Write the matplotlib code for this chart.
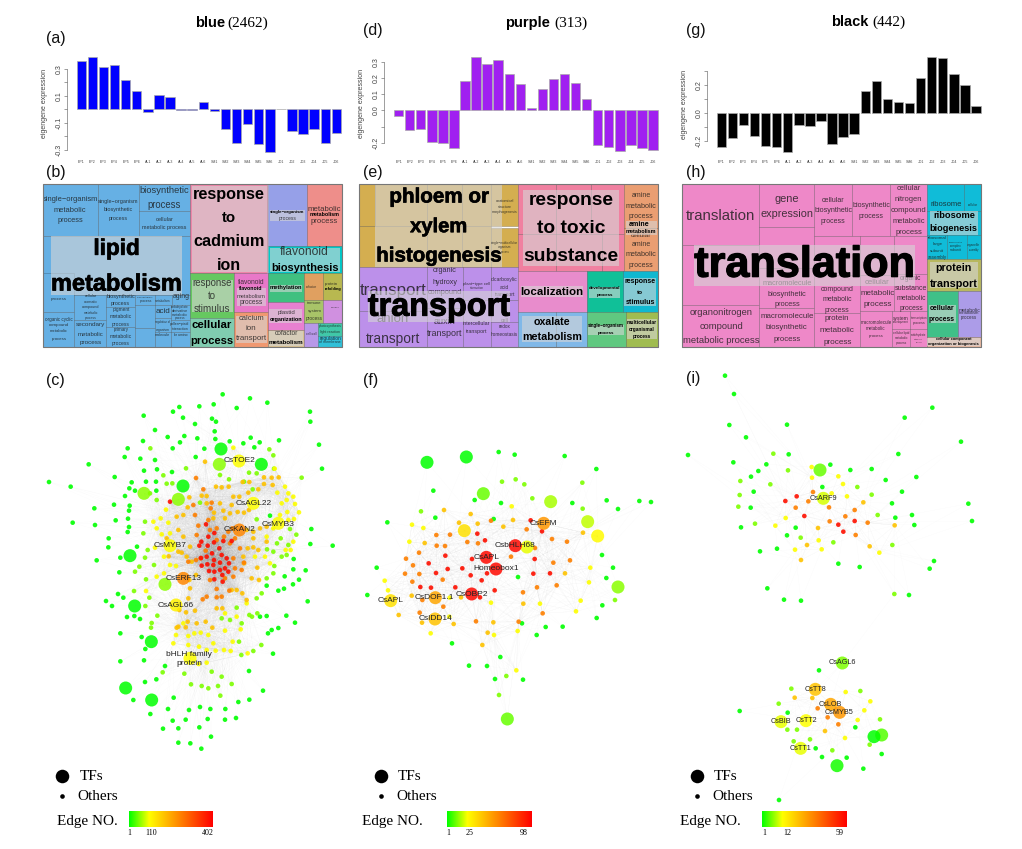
import numpy as np
import matplotlib
matplotlib.use('Agg')
import matplotlib.pyplot as plt
import matplotlib.patheffects as pe
from matplotlib.collections import LineCollection
from matplotlib.colors import LinearSegmentedColormap
from matplotlib.patches import Rectangle

W, H = 1022, 849
plt.rcParams['font.family'] = ['Liberation Sans', 'DejaVu Sans']

# ---- eigengene bars
samples = ['EP1','EP2','EP3','EP4','EP5','EP6','AL1','AL2','AL3','AL4','AL5','AL6',
           'SM1','SM2','SM3','SM4','SM5','SM6','JD1','JD2','JD3','JD4','JD5','JD6']
blue_vals = [.36,.385,.313,.326,.215,.133,-.017,.108,.094,-.004,-.005,.054,
             -.01,-.146,-.252,-.106,-.26,-.313,.005,-.158,-.185,-.143,-.25,-.175]
purple_vals = [-.035,-.124,-.118,-.196,-.2,-.233,.181,.33,.285,.311,.225,.163,
               .016,.13,.194,.225,.167,.068,-.216,-.227,-.254,-.214,-.231,-.245]
black_vals = [-.24,-.179,-.082,-.165,-.235,-.24,-.273,-.082,-.094,-.056,-.219,-.172,
              -.148,.158,.228,.096,.08,.073,.247,.398,.386,.273,.195,.047]

# ---- treemap tiles: x0, y0, x1, y1, colour (read in 3x crop pixels)
b_tiles = [(8,28,173,183,'#66B0E4'),(173,28,297,183,'#66B0E4'),(297,28,449,107,'#66B0E4'),
    (297,107,449,183,'#66B0E4'),(8,183,449,360,'#66B0E4'),(8,295,103,410,'#66B0E4'),(8,410,103,515,'#66B0E4'),
    (103,360,198,435,'#66B0E4'),(103,435,198,515,'#66B0E4'),(198,360,285,395,'#66B0E4'),(198,395,285,455,'#66B0E4'),
    (198,455,285,515,'#66B0E4'),(285,360,345,390,'#66B0E4'),(345,360,395,390,'#66B0E4'),(395,360,449,390,'#66B0E4'),
    (285,390,345,460,'#66B0E4'),(285,460,345,515,'#66B0E4'),(345,390,392,430,'#66B0E4'),(392,390,449,435,'#66B0E4'),
    (345,430,392,470,'#66B0E4'),(392,435,449,470,'#66B0E4'),(345,470,392,515,'#66B0E4'),(392,470,449,515,'#66B0E4'),
    (449,28,682,295,'#EE86A8'),(684,28,802,212,'#96A0E8'),(802,28,905,212,'#EE8E8A'),(684,212,905,295,'#00C8C8'),
    (449,295,583,428,'#66C860'),(449,428,583,515,'#80CCB0'),(583,295,683,410,'#E878C8'),(583,410,683,515,'#F09870'),
    (683,295,792,380,'#40C080'),(792,295,849,375,'#E0A060'),(849,295,905,375,'#B8B850'),(683,380,792,465,'#E880D0'),
    (683,465,792,515,'#D8C090'),(792,375,849,443,'#A8C468'),(849,375,905,443,'#D090E0'),(792,443,833,515,'#B898E8'),
    (833,443,905,482,'#40C8A8'),(833,482,905,515,'#30C0D8')]
b_boxes = [(33,183,425,360),(455,32,680,292),(689,105,796,137),(690,218,900,292),(455,315,578,412),
           (590,340,677,392),(588,422,680,505),(689,330,787,350),(688,402,787,445),(686,468,790,512)]
# last field: 0 plain, 1 bold, 2 plain and lying under a grey label box
b_text = [(8,172,75,'single−organism',0),(42,138,107,'metabolic',0),(52,130,138,'process',0),
    (174,296,81,'single−organism',0),(190,278,105,'biosynthetic',0),(205,262,131,'process',0),
    (298,447,46,'biosynthetic',0),(322,422,90,'process',0),(346,400,133,'cellular',0),(306,440,157,'metabolic process',0),
    (160,300,220,'lipid',1),(33,425,327,'metabolism',1),(457,675,58,'response',1),(545,587,128,'to',1),
    (459,673,200,'cadmium',1),(530,602,271,'ion',1),(689,795,112,'single−organism',1),(716,768,130,'process',0),
    (803,903,104,'metabolic',0),(808,898,120,'metabolism',1),(812,893,139,'process',0),
    (720,866,231,'flavonoid',0),(693,895,280,'biosynthesis',1),(456,575,324,'response',0),(503,527,363,'to',0),
    (461,570,401,'stimulus',0),(456,576,449,'cellular',1),(451,580,497,'process',1),
    (593,674,323,'flavonoid',0),(598,668,340,'flavonoid',1),(590,677,364,'metabolism',0),(598,668,383,'process',0),
    (595,672,431,'calcium',0),(616,648,461,'ion',0),(587,680,492,'transport',0),(690,787,339,'methylation',1),
    (855,895,327,'protein',0),(853,903,342,'refolding',1),(712,765,412,'plastid',0),(688,787,435,'organization',1),
    (703,775,476,'cofactor',0),(686,790,504,'metabolism',1),(800,845,385,'immune',0),(803,845,408,'system',0),
    (798,848,430,'process',0),(397,448,365,'aging',0),(106,195,449,'secondary',0),(112,190,477,'metabolic',0),
    (118,185,503,'process',0),(15,97,432,'organic cyclic',0),(26,88,449,'compound',0),(30,85,468,'metabolic',0),
    (34,80,491,'process',0),(133,170,364,'cellular',0),(130,172,381,'aromatic',0),(125,178,397,'compound',0),
    (130,174,413,'metabolic',0),(134,170,428,'process',0),(33,80,372,'process',0),(200,285,365,'biosynthetic',0),
    (213,270,387,'process',0),(217,268,403,'pigment',0),(210,276,425,'metabolic',0),(216,268,448,'process',0),
    (220,266,463,'primary',0),(210,276,484,'metabolic',0),(216,268,506,'process',0),(345,392,378,'metabolism',0),
    (292,338,367,'acid metabolic',0),(298,335,379,'process',0),(346,390,409,'acid',0),(392,446,396,'carbohydrate',0),
    (396,444,408,'derivative',0),(396,444,420,'metabolic',0),(404,436,430,'process',0),(390,447,446,'pollen−pistil',0),
    (395,445,461,'interaction',0),(397,442,479,'for amino',0),(346,391,442,'regulation of',0),(348,390,465,'organism',0),
    (345,392,479,'molecule',0),(796,830,336,'cofactor',0),(872,898,397,'process',0),
    (800,830,476,'cell wall',0),(836,904,452,'photosynthesis',0),(840,900,470,'light reaction',0),(838,902,490,'regulation',0),
    (838,902,502,'of membrane',0)]
e_tiles = [(13,28,60,152,'#D4AE50'),(60,28,215,152,'#D4AE50'),(215,28,320,152,'#D4AE50'),(320,28,408,152,'#D4AE50'),
    (408,28,488,152,'#D4AE50'),(13,152,215,275,'#D4AE50'),(215,152,320,275,'#D4AE50'),(320,152,408,275,'#D4AE50'),
    (408,160,488,275,'#D4AE50'),(488,28,603,178,'#F080A0'),(603,28,708,178,'#F080A0'),(708,28,808,178,'#F080A0'),
    (488,178,603,288,'#F080A0'),(603,178,742,288,'#F080A0'),(742,178,808,288,'#F080A0'),(808,28,910,160,'#EA9E72'),
    (808,160,910,288,'#EA9E72'),(13,275,215,408,'#BC90EA'),(13,408,215,515,'#BC90EA'),(215,275,323,400,'#BC90EA'),
    (215,400,323,515,'#BC90EA'),(323,275,408,375,'#BC90EA'),(408,275,488,375,'#BC90EA'),(323,375,408,515,'#BC90EA'),
    (408,375,488,440,'#BC90EA'),(408,440,488,515,'#BC90EA'),(488,288,695,412,'#E88CCC'),(695,288,803,412,'#10C098'),
    (803,288,910,412,'#10B8D0'),(488,412,602,515,'#80B8E8'),(602,412,695,515,'#80B8E8'),(695,412,812,515,'#60C880'),
    (812,412,910,515,'#A0BC50')]
e_boxes = [(60,28,442,275),(504,45,792,273),(813,138,905,180),(38,348,465,440),(498,333,685,367),(702,335,795,368),
           (808,310,903,392),(500,422,682,502),(700,450,806,480),(817,432,905,492)]
e_text = [(103,402,66,'phloem or',1),(165,337,155,'xylem',1),(63,440,243,'histogenesis',1),(15,215,345,'transport',2),
    (38,465,398,'transport',1),(65,163,433,'anion',2),(33,197,492,'transport',0),(232,305,288,'organic',0),
    (231,307,321,'hydroxy',0),(217,320,353,'compound',2),(237,302,438,'auxin',2),(216,323,476,'transport',0),
    (520,775,78,'response',1),(546,750,161,'to toxic',1),(505,790,245,'substance',1),(830,888,63,'amine',0),
    (812,905,94,'metabolic',0),(822,895,125,'process',0),(820,882,148,'amine',1),(813,905,171,'metabolism',1),
    (828,890,182,'cellular',2),(830,888,208,'amine',0),(812,905,240,'metabolic',0),(822,895,271,'process',0),
    (498,684,351,'localization',1),(702,796,340,'developmental',1),(724,774,361,'process',1),(809,903,320,'response',1),
    (846,864,352,'to',1),(812,900,382,'stimulus',1),(536,646,440,'oxalate',1),(501,681,487,'metabolism',1),
    (699,807,453,'single−organism',1),(728,778,473,'process',1),(816,905,441,'multicellular',1),
    (822,898,463,'organismal',1),(833,888,485,'process',1),(409,488,315,'dicarboxylic',0),(435,462,337,'acid',0),
    (419,480,358,'transport',2),(324,406,445,'intercellular',0),(333,397,468,'transport',0),(430,465,456,'redox',0),
    (408,488,477,'homeostasis',0),(436,460,435,'cell',2),(325,407,326,'plant−type cell',0),(345,385,340,'interaction',0),
    (422,478,77,'anatomical',0),(430,472,95,'structure',0),(412,488,111,'morphogenesis',0),
    (408,488,203,'single−multicellular',0),(428,468,217,'organism',0),(438,465,231,'process',0)]
h_tiles = [(20,28,253,210,'#EE88C8'),(253,28,417,157,'#EE88C8'),(417,28,532,183,'#EE88C8'),(532,28,646,183,'#EE88C8'),
    (646,28,757,183,'#EE88C8'),(253,157,417,280,'#EE88C8'),(20,210,253,391,'#EE88C8'),(20,391,253,515,'#EE88C8'),
    (253,280,417,400,'#EE88C8'),(253,400,417,515,'#EE88C8'),(417,183,556,300,'#EE88C8'),(556,183,658,300,'#EE88C8'),
    (658,183,757,297,'#EE88C8'),(417,300,556,415,'#EE88C8'),(556,300,658,408,'#EE88C8'),(658,297,757,408,'#EE88C8'),
    (417,415,556,515,'#EE88C8'),(556,408,650,515,'#EE88C8'),(650,408,706,463,'#EE88C8'),(706,408,757,463,'#EE88C8'),
    (650,463,706,515,'#EE88C8'),(706,463,757,515,'#EE88C8'),(757,28,868,108,'#10BCD8'),(868,28,917,108,'#10BCD8'),
    (757,108,917,180,'#10BCD8'),(757,180,815,253,'#10BCD8'),(815,180,875,253,'#10BCD8'),(875,180,917,253,'#10BCD8'),
    (757,253,917,348,'#B8B860'),(757,348,848,485,'#40C088'),(848,348,917,485,'#AC9CE8'),(757,485,917,515,'#E8B8A0')]
h_boxes = [(57,210,720,333),(765,108,910,180),(765,262,908,340),(762,390,842,445),(757,488,915,513)]
h_text = [(33,241,122,'translation',0),(298,372,71,'gene',0),(257,415,118,'expression',0),(440,508,77,'cellular',0),
    (417,532,108,'biosynthetic',0),(437,511,139,'process',0),(532,646,92,'biosynthetic',0),(552,627,124,'process',0),
    (665,737,42,'cellular',0),(660,742,75,'nitrogen',0),(648,755,108,'compound',0),(653,750,141,'metabolic',0),
    (662,742,174,'process',0),(57,718,272,'translation',1),(260,411,325,'macromolecule',2),(277,395,357,'biosynthetic',0),
    (297,375,389,'process',0),(570,644,321,'cellular',2),(437,535,344,'compound',0),(443,531,374,'metabolic',0),
    (449,522,405,'process',0),(556,659,355,'metabolic',0),(565,650,390,'process',0),(675,740,311,'organic',2),
    (660,755,340,'substance',0),(663,752,370,'metabolic',0),(672,743,400,'process',0),(42,233,413,'organonitrogen',0),
    (72,204,455,'compound',0),(23,253,496,'metabolic process',0),(255,417,424,'macromolecule',0),
    (273,398,458,'biosynthetic',0),(295,376,493,'process',0),(449,523,430,'protein',0),(434,539,465,'metabolic',0),
    (444,530,501,'process',0),(557,650,441,'macromolecule',0),(574,632,462,'metabolic',0),(580,625,482,'process',0),
    (765,860,89,'ribosome',0),(775,900,122,'ribosome',1),(765,908,161,'biogenesis',1),(758,816,188,'ribosomal',0),
    (772,802,208,'large',0),(765,808,227,'subunit',0),(758,815,246,'assembly',0),(782,890,279,'protein',1),
    (765,908,326,'transport',1),(764,838,402,'cellular',1),(762,840,433,'process',1),(850,915,405,'metabolic',0),
    (852,914,415,'metabolism',0),(857,905,427,'process',0),(782,890,491,'cellular component',1),
    (760,912,508,'organization or biogenesis',1),(655,702,430,'system',0),(655,702,442,'development',0),
    (708,755,430,'transcription',0),(712,750,445,'process',0),(655,702,475,'cellular lipid',0),(660,700,489,'metabolic',0),
    (662,696,503,'process',0),(708,755,481,'carbohydrate',0),(718,745,492,'catabolic',0),(722,742,503,'process',0),
    (878,908,90,'cellular',0),(820,865,202,'ribonucleoprotein',0),(825,860,214,'complex',0),(825,860,226,'subunit',0),
    (876,915,210,'organelle',0),(880,912,224,'assembly',0)]

# ---- network nodes, (x, y) in 3x crop pixels, split by edge-number tier
c_green = [(548,103),(630,115),(682,128),(478,139),(521,133),(418,141),(590,144),(399,155),(311,167),(429,173),(516,176),
    (810,155),(811,185),(465,192),(528,185),(345,210),(524,214),(433,228),(383,231),(472,235),(309,243),(526,237),(420,247),
    (398,265),(263,265),(493,266),(569,244),(632,233),(610,250),(659,247),(717,241),(643,262),(837,254),(254,291),(301,296),
    (345,300),(467,291),(146,313),(312,332),(351,328),(846,326),(396,336),(224,351),(27,366),(92,380),(275,367),(268,385),
    (318,365),(348,365),(255,408),(285,392),(349,392),(222,434),(163,445),(269,437),(267,452),(264,476),(227,481),(98,488),
    (165,495),(267,501),(263,516),(206,535),(205,562),(170,601),(291,560),(241,593),(238,637),(814,507),(811,552),(878,557),
    (761,597),(760,628),(797,631),(777,659),(734,649),(759,673),(680,677),(732,686),(715,692),(803,724),(198,723),(216,738),
    (234,702),(250,713),(261,771),(283,768),(300,777),(739,767),(765,788),(715,804),(695,810),(684,820),(680,768),(660,770),
    (241,820),(305,831),(316,867),(241,904),(312,901),(699,881),(627,933),(375,918),(349,958),(315,966),(280,1020),(401,1013),
    (669,992),(628,1019),(595,1026),(384,1047),(331,1062),(447,1050),(480,1041),(511,1047),(556,1047),(398,1082),(437,1079),
    (503,1077),(555,1079),(588,1074),(369,1106),(415,1105),(478,1102),(513,1130),(415,1148),(451,1150),(484,1166),(690,467)]
c_lime = [(331,265),(370,346),(785,353),(397,370),(380,371),(438,325),(540,345),(567,358),(627,338),(650,340),(612,365),
    (638,388),(700,286),(688,268),(702,326),(350,420),(315,485),(310,520),(323,570),(315,593),(342,615),(298,620),(285,635),
    (318,658),(282,693),(328,713),(316,738),(352,767),(335,789),(333,803),(769,524),(750,507),(745,555),(722,535),(711,550),
    (700,575),(725,590),(681,568),(703,618),(740,585),(700,640),(680,655),(665,700),(650,715),(628,765),(652,760),(636,770),
    (590,743),(605,790),(597,845),(545,775),(570,780),(664,855),(604,885),(640,873),(368,937),(433,941),(453,973),(485,978),
    (534,978),(575,972),(505,985),(541,1007),(545,950),(515,935),(480,428),(650,478),(330,400)]
c_yellow = [(580,263),(704,326),(740,420),(760,410),(745,400),(765,432),(735,380),(712,398),(725,430),(742,456),(762,477),
    (777,457),(745,480),(720,465),(760,545),(737,570),(752,570),(700,505),(680,530),(645,590),(675,590),(690,610),(318,693),
    (362,475),(378,449),(340,485),(385,488),(350,505),(390,520),(365,523),(345,563),(372,590),(390,615),(408,618),(350,650),
    (372,640),(408,825),(430,790),(445,828),(463,820),(482,818),(505,825),(520,850),(477,860),(500,870),(527,872),(552,870),
    (572,873),(555,812),(602,808),(578,845),(623,880),(500,908),(476,912),(445,855),(400,850),(555,760),(590,770),(620,730)]
c_amber = [(545,382),(566,380),(528,380),(608,366),(628,366),(672,352),(695,353),(716,352),(672,372),(698,375),(655,388),
    (500,408),(485,407),(580,410),(598,410),(625,398),(448,412),(430,465),(410,470),(443,442),(500,430),(540,430),(575,435),
    (593,456),(612,458),(627,450),(550,452),(570,460),(520,475),(522,458),(555,475),(660,505),(640,515),(620,510),(680,500),
    (640,535),(623,565),(640,562),(680,545),(655,570),(610,590),(652,623),(635,655),(657,660),(612,610),(450,560),(430,530),
    (415,510),(415,575),(425,578),(380,535),(386,589),(455,605),(440,590),(468,645),(448,660),(450,685),(445,715),(418,750),
    (438,757),(465,752),(415,800),(443,785),(470,790),(497,785),(517,803),(437,802),(410,803),(575,690),(590,690),(607,700),
    (620,720),(547,745),(530,745),(495,305)]
c_orange = [(468,354),(490,388),(460,435),(465,465),(515,428),(512,445),(505,480),(475,497),(470,525),(510,510),(530,505),
    (577,505),(565,515),(585,535),(600,565),(570,550),(552,530),(530,540),(612,608),(580,595),(580,650),(555,655),(605,630),
    (585,625),(510,660),(530,687),(568,692),(500,710),(488,718),(530,712),(545,710),(468,600),(482,595),(445,605),(497,572)]
c_red = [(390,425),(498,493),(523,519),(505,530),(484,545),(478,557),(503,557),(522,547),(550,543),(575,543),(538,565),
    (516,580),(545,585),(500,590),(483,594),(522,600),(560,595),(502,613),(485,617),(540,608),(567,610),(520,615),(555,625),
    (507,633),(523,635),(565,635),(540,630),(547,645),(523,658),(548,665)]
c_hubs = [(543,267,0),(664,313,0),(429,378,0),(270,587,0),(284,738,0),(334,845,0),(257,984,0),(335,1020,0),(538,313,.13),
    (312,400,.13),(415,418,.13),(375,673,.13),(597,303,.24),(640,430,.24),(715,490,.24),(390,557,.24),(408,735,.28),
    (450,895,.24),(598,510,.6),(430,655,.6)]
c_labels = [(600,303,'CsTOE2'),(640,430,'CsAGL22'),(715,492,'CsMYB3'),(600,509,'CsKAN2'),(390,557,'CsMYB7'),
    (430,657,'CsERF13'),(408,736,'CsAGL66'),(447,897,'bHLH family\nprotein')]

f_green = [(431,96),(479,104),(629,108),(724,147),(235,212),(359,240),(438,249),(652,249),(755,241),(853,243),(888,246),
    (789,267),(97,307),(241,293),(416,297),(741,405),(65,443),(774,443),(754,474),(489,471),(37,525),(742,556),(725,594),
    (501,610),(545,645),(572,621),(623,620),(291,670),(436,711),(342,737),(396,738),(420,777),(504,779)]
f_lime = [(441,185),(482,178),(508,193),(532,235),(682,188),(683,266),(198,274),(780,540),(432,825),(454,768)]
f_yellow = [(470,259),(171,314),(205,324),(163,365),(89,482),(99,511),(706,443),(702,487),(677,542),(663,574),(555,551),
    (284,533),(227,640),(417,645),(488,633),(484,751),(283,590),(408,548)]
f_amber = [(267,270),(347,282),(312,308),(368,311),(445,320),(474,300),(209,369),(684,338),(630,460),(131,585),(201,608),
    (382,675),(398,638),(415,607),(318,532),(170,527),(505,551),(296,612)]
f_orange = [(244,345),(285,344),(245,377),(270,378),(192,398),(153,416),(174,436),(150,461),(193,462),(172,485),(263,479),
    (369,370),(337,366),(408,302),(515,328),(591,357),(636,365),(468,410),(595,428),(645,421),(605,496),(546,502),(504,517),
    (563,580),(491,605),(363,604),(194,578),(265,560),(202,540),(540,384)]
f_red = [(367,341),(390,361),(271,407),(221,430),(278,447),(243,459),(322,445),(351,417),(347,466),(380,481),(396,460),
    (196,501),(228,503),(301,502),(419,511),(375,532),(539,417),(535,461),(585,460),(527,301),(561,334)]
f_hubs = [(216,127,0),(334,111,0),(385,221,.1),(457,897,.1),(789,501,.13),(587,245,.16),(698,305,.18),(516,381,.22),
    (728,348,.25),(328,332,.33),(107,542,.33),(240,597,.42),(241,533,.5),(566,310,.55),(481,377,.97),(394,412,.97),
    (423,447,.97),(350,522,.97)]
f_labels = [(566,311,'CsEFM'),(480,377,'CsbHLH68'),(394,412,'CsAPL'),(423,447,'Homeobox1'),(350,522,'CsOBP2'),
    (239,532,'CsDOF1.1'),(107,541,'CsAPL'),(241,597,'CsIDD14')]

i_green = [(135,17),(162,72),(148,165),(198,202),(321,164),(24,255),(160,277),(326,253),(259,283),(235,303),(213,320),
    (221,365),(212,413),(183,472),(347,473),(321,496),(291,536),(240,544),(451,284),(511,300),(575,297),(427,351),(617,330),
    (674,143),(757,113),(843,215),(655,252),(709,321),(666,365),(636,400),(646,443),(696,435),(865,401),(876,453),(703,465),
    (762,573),(749,596),(687,675),(475,581),(539,591),(262,655),(312,689),(363,692),(417,901),(179,1023),(605,1152),(550,1196),
    (500,1163),(426,1161),(407,1135),(297,1290),(323,1028),(526,1072)]
i_lime = [(280,251),(324,301),(271,343),(181,333),(179,375),(175,410),(225,461),(362,503),(460,517),(532,351),(575,374),
    (593,435),(637,525),(643,672),(334,956),(296,1001),(322,1079),(351,1079),(390,1108),(341,1114),(541,963),(600,1048),
    (569,1124),(457,1141)]
i_yellow = [(395,291),(396,323),(317,444),(286,467),(345,539),(416,511),(425,538),(598,548),(489,342),(501,379),(475,319),
    (533,1050),(553,1021),(571,994),(497,966),(495,1104),(455,370)]
i_amber = [(363,570),(381,525),(414,474),(550,397),(569,529),(644,466),(344,983),(397,984),(435,1083)]
i_orange = [(399,366),(385,394),(347,413),(447,412),(524,420),(496,439),(449,454),(563,458),(527,495),(413,1015),(443,1042),(475,1063)]
i_red = [(316,393),(350,379),(373,438),(475,464),(524,453),(490,485)]
i_hubs = [(420,300,.1),(487,879,.12),(605,1095,.08),(582,1100,0),(471,1187,.02),(430,385,.2),(303,1055,.22),(378,1052,.24),
    (362,1135,.22),(406,958,.42),(452,1003,.5),(479,1027,.55)]
i_labels = [(430,384,'CsARF9'),(488,878,'CsAGL6'),(406,958,'CsTT8'),(452,1002,'CsLOB'),(478,1027,'CsMYB5'),
    (303,1055,'CsBIB'),(378,1052,'CsTT2'),(362,1135,'CsTT1')]
i_bridge = [(643,672,487,879)]

tier_values = [0.0, 0.12, 0.24, 0.42, 0.62, 0.95]
edge_cmap = LinearSegmentedColormap.from_list('edge', [(0,'#00FF00'),(.24,'#FFFF00'),(1,'#FF0000')])

fig = plt.figure(figsize=(W/100, H/100), dpi=100)
renderer = fig.canvas.get_renderer()


def crop_axes(ox, oy, w, h):
    # axes whose data units are the 3x crop pixels of that region
    ax = fig.add_axes([ox/W, 1-(oy+h)/H, w/W, h/H])
    ax.set_xlim(0, w*3)
    ax.set_ylim(h*3, 0)
    ax.axis('off')
    ax.patch.set_alpha(0)
    return ax


def fit_label(ax, x0, x1, y, s, flag):
    bold = flag == 1
    t = ax.text((x0+x1)/2, y, s, ha='center', va='center', color='black' if bold else '#1a1a1a',
                alpha=1 if bold else .8, fontweight='bold' if bold else 'normal', fontsize=10,
                zorder=2 if flag == 2 else 4)
    size = 10*(x1-x0)/3/t.get_window_extent(renderer).width
    t.set_fontsize(size)
    if bold and size > 14:
        # the biggest treemap titles are heavier than the plain bold face
        t.set_path_effects([pe.withStroke(linewidth=size*.03, foreground='black')])


def treemap(ax, tiles, boxes, labels):
    for x0, y0, x1, y1, col in tiles:
        ax.add_patch(Rectangle((x0, y0), x1-x0, y1-y0, fc=col, ec=(0, 0, 0, .22), lw=.6, zorder=1))
    for x0, y0, x1, y1 in boxes:
        ax.add_patch(Rectangle((x0, y0), x1-x0, y1-y0, fc=(.84, .84, .84, .6), ec='none', zorder=3))
    xs = [t[0] for t in tiles]+[t[2] for t in tiles]
    ys = [t[1] for t in tiles]+[t[3] for t in tiles]
    ax.add_patch(Rectangle((min(xs), min(ys)), max(xs)-min(xs), max(ys)-min(ys), fc='none', ec='#777777', lw=.8, zorder=5))
    for x0, x1, y, s, flag in labels:
        fit_label(ax, x0, x1, y, s, flag)


def eigengene(vals, col, ox, first_x, last_x, zero_y, per_tenth, axis_x, ticks, labelled, label_x):
    # axes placed so the value scale lands where the crop shows it
    top, bot = 150, 470
    right = last_x+30
    ax = fig.add_axes([(ox+axis_x/3)/W, 1-bot/3/H, (right-axis_x)/3/W, (bot-top)/3/H])
    step = (last_x-first_x)/23
    ax.set_xlim((axis_x-first_x)/step, (right-first_x)/step)
    ax.set_ylim((zero_y-bot)/per_tenth/10, (zero_y-top)/per_tenth/10)
    ax.patch.set_alpha(0)
    ax.bar(range(24), vals, width=.85, color=col, edgecolor='#aaaaaa', linewidth=.5)
    for k in ['top', 'right', 'bottom']:
        ax.spines[k].set_visible(False)
    ax.spines['left'].set_bounds(min(ticks), max(ticks))
    ax.spines['left'].set_linewidth(.4)
    ax.spines['left'].set_color('#555555')
    ax.set_yticks(ticks)
    ax.set_yticklabels(['%.1f' % v if v in labelled else '' for v in ticks], rotation=90, va='center', fontsize=5, color='#444444')
    ax.tick_params(axis='y', length=2, width=.4, pad=1, color='#555555')
    ax.set_xticks([])
    lab = crop_axes(ox, 0, 320, 175)
    lab.text(label_x, (zero_y+(top+bot)/2)/2-10, 'eigengene expression', rotation=90, ha='center', va='center', fontsize=5, color='#444444')
    for i, s in enumerate(samples):
        lab.text(first_x+step*i, 485, s, ha='center', va='center', fontsize=2.6, color='#444444')


def network(ax, tiers, hubs, labels, k0, kn, alpha, label_size, bridge=()):
    xy, val = [], []
    for pts, v in zip(tiers, tier_values):
        xy += pts
        val += [v]*len(pts)
    xy += [h[:2] for h in hubs]
    val += [h[2] for h in hubs]
    xy = np.array(xy, float)
    val = np.array(val)
    # links: every node to its nearest better-connected nodes, more for the hot ones
    core = xy[val >= .24]
    segs = []
    for p, v in zip(xy, val):
        d = np.hypot(*(core-p).T)
        for j in np.argsort(d)[1:int(k0+kn*v)+1]:
            segs.append([p, core[j]])
    segs += [[b[:2], b[2:]] for b in bridge]
    ax.add_collection(LineCollection(segs, colors='#999999', linewidths=.2, alpha=alpha, zorder=1))
    small = np.arange(len(xy)) < len(xy)-len(hubs)
    ax.scatter(xy[small, 0], xy[small, 1], s=11, c=val[small], cmap=edge_cmap, vmin=0, vmax=1, lw=0, alpha=.9, zorder=2)
    ax.scatter(xy[~small, 0], xy[~small, 1], s=88, c=val[~small], cmap=edge_cmap, vmin=0, vmax=1, lw=0, alpha=.85, zorder=3)
    for x, y, s in labels:
        ax.text(x, y, s, ha='center', va='center', fontsize=label_size, color='#222222', zorder=4, linespacing=1.35)


def legend(circle_x, text_x, others_x, edge_x, bar_x0, bar_x1, ticks):
    ax = crop_axes(0, 0, W, H)
    ax.scatter([circle_x], [776*3], s=95, c='k', lw=0)
    ax.scatter([circle_x], [796*3], s=11, c='k', lw=0)
    ax.text(text_x, 776.5*3, 'TFs', family='Liberation Serif', fontsize=11, va='center')
    ax.text(others_x, 796*3, 'Others', family='Liberation Serif', fontsize=11, va='center')
    ax.text(edge_x, 822*3, 'Edge NO.', family='Liberation Serif', fontsize=11, va='center')
    grad = np.linspace(0, 1, 256)[None, :]
    ax.imshow(grad, cmap=edge_cmap, extent=(bar_x0*3, bar_x1*3, 827*3, 811*3), aspect='auto', zorder=2)
    ax.set_xlim(0, W*3)
    ax.set_ylim(H*3, 0)
    for x, s in ticks:
        ax.text(x*3, 833*3, s, family='Liberation Serif', fontsize=5.8, ha='center', va='center')


treemap(crop_axes(40, 175, 320, 180), b_tiles, b_boxes, b_text)
treemap(crop_axes(355, 175, 320, 180), e_tiles, e_boxes, e_text)
treemap(crop_axes(675, 175, 320, 180), h_tiles, h_boxes, h_text)

eigengene(blue_vals, '#0000FF', 40, 124, 889, 328, 40.5, 81, [-.3, -.2, -.1, 0, .1, .2, .3], [-.3, -.1, .1, .3], 15)
eigengene(purple_vals, '#A020F0', 355, 131, 894, 331, 48.5, 88, [-.2, -.1, 0, .1, .2, .3], [-.2, 0, .1, .2, .3], 20)
eigengene(black_vals, '#000000', 675, 139, 903, 339, 42.5, 95, [-.2, -.1, 0, .1, .2, .3], [-.2, 0, .2], 28)

network(crop_axes(40, 360, 320, 400), [c_green, c_lime, c_yellow, c_amber, c_orange, c_red], c_hubs, c_labels, 3, 110, .035, 6)
network(crop_axes(355, 420, 300, 320), [f_green, f_lime, f_yellow, f_amber, f_orange, f_red], f_hubs, f_labels, 3, 30, .06, 6)
network(crop_axes(680, 370, 310, 440), [i_green, i_lime, i_yellow, i_amber, i_orange, i_red], i_hubs, i_labels, 2, 15, .06, 5.2, i_bridge)

legend(62*3, 80*3, 77*3, 57*3, 129, 213, [(129, '1'), (151, '110'), (208, '402')])
legend(381*3, 398*3, 396*3, 362*3, 447, 531, [(448, '1'), (470, '25'), (524, '98')])
legend(697*3, 714*3, 712*3, 680*3, 762, 847, [(764, '1'), (787, '12'), (840, '59')])

top = crop_axes(0, 0, W, H)
for x, y, s in [(46, 38, '(a)'), (46, 173, '(b)'), (46, 381, '(c)'), (363, 30, '(d)'), (363, 173, '(e)'), (363, 381, '(f)'),
                (686, 31, '(g)'), (686, 172, '(h)'), (686, 378, '(i)')]:
    top.text(x*3, y*3, s, fontsize=11.5, va='center', color='#111111')
for xb, xn, y, name, n in [(195, 227, 23, 'blue', '(2462)'), (505, 554, 23, 'purple', '(313)'), (831, 872, 22, 'black', '(442)')]:
    top.text(xb*3, y*3, name, fontsize=10.5, fontweight='bold', va='center')
    top.text(xn*3, y*3, n, fontsize=11, family='Liberation Serif', va='center')

fig.savefig('out.png', dpi=100)
